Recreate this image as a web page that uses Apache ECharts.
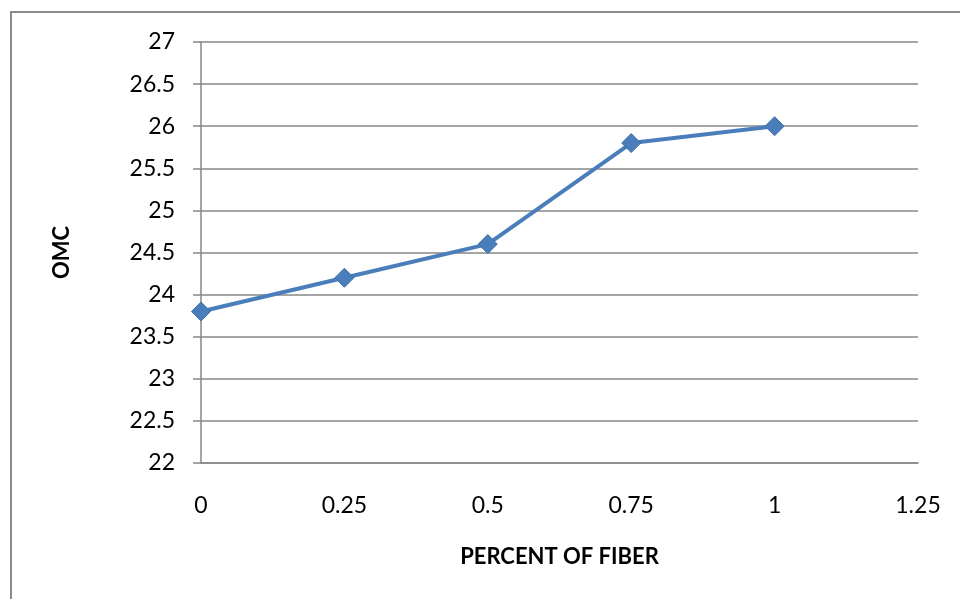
<!DOCTYPE html>
<html>
<head>
<meta charset="utf-8">
<script src="https://cdn.jsdelivr.net/npm/echarts@6/dist/echarts.min.js"></script>
<style>
  html, body { margin: 0; padding: 0; background: #fff; }
  #chart { width: 960px; height: 599px; }
</style>
</head>
<body>
<div id="chart"></div>
<script>
const fiberPercent = [0, 0.25, 0.5, 0.75, 1];
const omcValues = [23.8, 24.2, 24.6, 25.8, 26];

const chart = echarts.init(document.getElementById("chart"));

const gridColor = "#878787";
const font = "Lato, 'Open Sans', sans-serif";

const option = {
  animation: false,
  backgroundColor: "#fff",
  graphic: [
    {
      type: "rect",
      shape: { x: 11, y: 12, width: 1200, height: 1200 },
      style: { fill: "none", stroke: "#8c8c8c", lineWidth: 2 },
      silent: true,
    },
  ],
  grid: {
    left: 201,
    right: 42,
    top: 42,
    bottom: 136,
  },
  xAxis: {
    type: "value",
    min: 0,
    max: 1.25,
    interval: 0.25,
    name: "PERCENT OF FIBER",
    nameLocation: "middle",
    nameGap: 83,
    nameTextStyle: { fontFamily: font, fontSize: 22, fontWeight: "bold", color: "#000" },
    axisLine: { show: true, lineStyle: { color: gridColor, width: 1.5 } },
    axisTick: { show: false },
    splitLine: { show: false },
    axisLabel: { margin: 31, fontFamily: font, fontSize: 23, color: "#000" },
  },
  yAxis: {
    type: "value",
    min: 22,
    max: 27,
    interval: 0.5,
    name: "OMC",
    nameLocation: "middle",
    nameRotate: 90,
    nameGap: 128,
    nameTextStyle: { fontFamily: font, fontSize: 22, fontWeight: "bold", color: "#000" },
    axisLine: { show: true, lineStyle: { color: gridColor, width: 1.5 } },
    axisTick: { show: true, inside: false, length: 8, lineStyle: { color: gridColor, width: 1.5 } },
    splitLine: { show: true, lineStyle: { color: gridColor, width: 1.5 } },
    axisLabel: { margin: 26, fontFamily: font, fontSize: 23, color: "#000" },
  },
  series: [
    {
      type: "line",
      data: fiberPercent.map((x, i) => [x, omcValues[i]]),
      symbol: "diamond",
      symbolSize: 19,
      lineStyle: { color: "#4a7ebb", width: 4 },
      itemStyle: { color: "#4a7ebb", borderColor: "#3d6ea8", borderWidth: 1 },
    },
  ],
};

chart.setOption(option);
</script>
</body>
</html>
